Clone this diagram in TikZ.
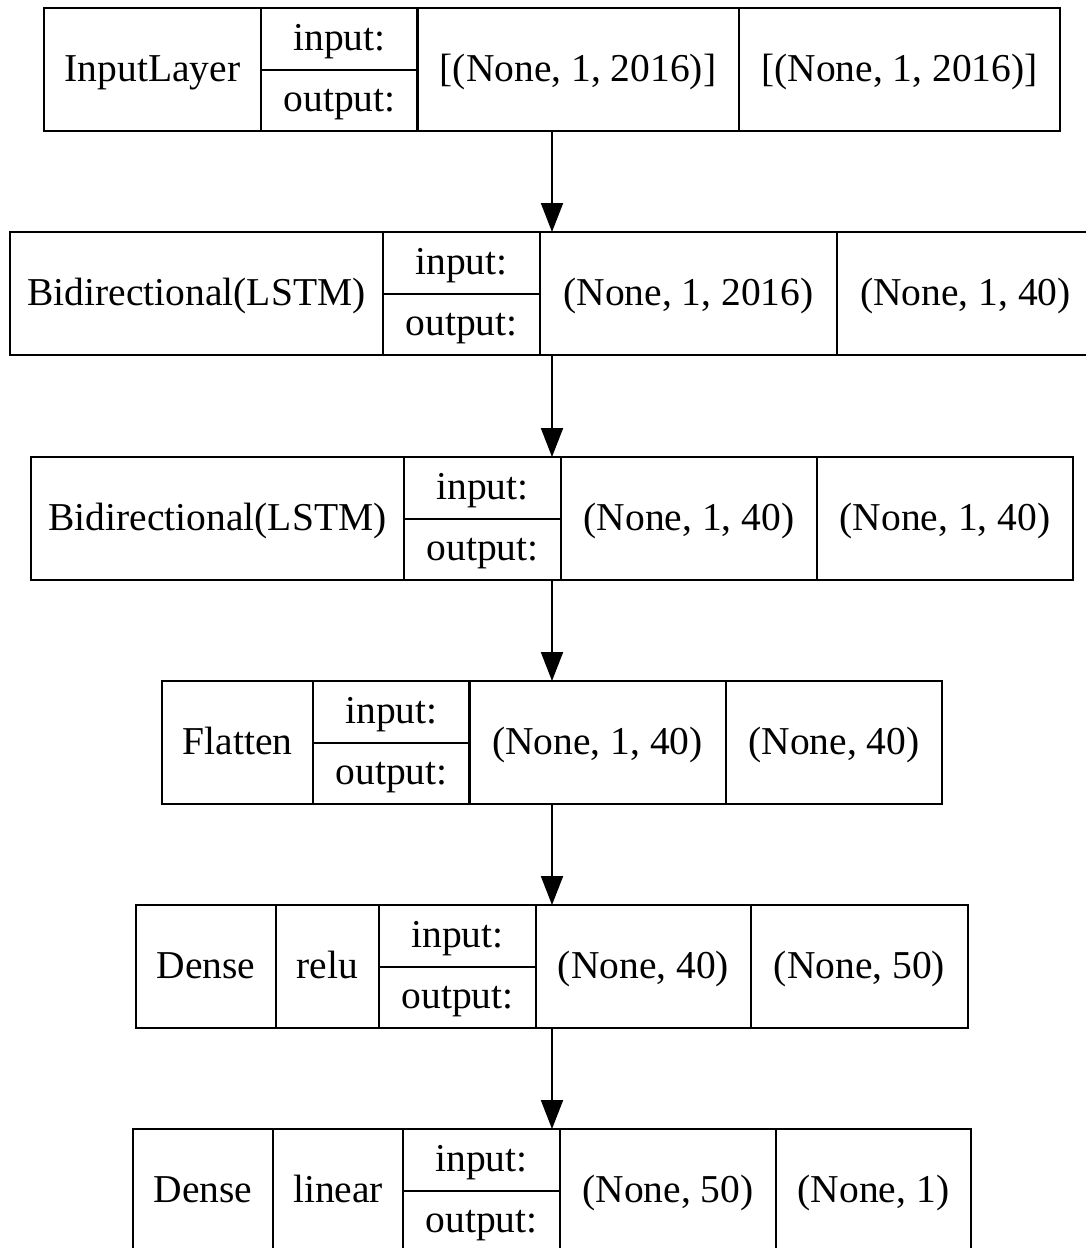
\documentclass[tikz,border=0pt]{standalone}
\usepackage{fontspec}
\setmainfont{Liberation Serif}
\usetikzlibrary{arrows.meta}

\tikzset{
  layerbox/.style={draw, line width=2pt, inner sep=0pt, outer sep=0pt, minimum height=123pt},
  cell/.style={draw, line width=2pt, inner sep=0pt, outer sep=0pt, minimum height=123pt, anchor=north west, text height=28pt, text depth=5pt},
  half/.style={draw, line width=2pt, inner sep=0pt, outer sep=0pt, minimum height=61.5pt, minimum width=157pt, anchor=north west, text height=28pt, text depth=5pt},
  flow/.style={-{Triangle[length=29pt,width=22pt]}, line width=2pt}
}

\begin{document}
\begin{tikzpicture}[x=1pt, y=-1pt, every node/.style={font=\fontsize{39.5}{47}\selectfont}]
\useasboundingbox (0,0) rectangle (1086,1248);

% InputLayer
\node[layerbox, minimum width=1016pt] (L1) at (552,69.5) {};
\foreach \x/\w/\t in {44/217/InputLayer, 417/322/{[(None, 1, 2016)]}, 739/321/{[(None, 1, 2016)]}}
    \node[cell, minimum width=\w pt] (L1-\x) at (\x,8) {\t};
\node[half] (L1-in) at (261,8) {input:};
\node[half] (L1-out) at (261,69.5) {output:};

% Bidirectional 1
\node[layerbox, minimum width=1084pt] (L2) at (552,293.5) {};
\foreach \x/\w/\t in {10/373/Bidirectional(LSTM), 540/297/{(None, 1, 2016)}, 837/257/{(None, 1, 40)}}
    \node[cell, minimum width=\w pt] (L2-\x) at (\x,232) {\t};
\node[half] (L2-in) at (383,232) {input:};
\node[half] (L2-out) at (383,293.5) {output:};

% Bidirectional 2
\node[layerbox, minimum width=1042pt] (L3) at (552,518.5) {};
\foreach \x/\w/\t in {31/373/Bidirectional(LSTM), 561/256/{(None, 1, 40)}, 817/256/{(None, 1, 40)}}
    \node[cell, minimum width=\w pt] (L3-\x) at (\x,457) {\t};
\node[half] (L3-in) at (404,457) {input:};
\node[half] (L3-out) at (404,518.5) {output:};

% Flatten
\node[layerbox, minimum width=780pt] (L4) at (552,742.5) {};
\foreach \x/\w/\t in {162/151/Flatten, 469/257/{(None, 1, 40)}, 726/216/{(None, 40)}}
    \node[cell, minimum width=\w pt] (L4-\x) at (\x,681) {\t};
\node[half] (L4-in) at (313,681) {input:};
\node[half] (L4-out) at (313,742.5) {output:};

% Dense relu
\node[layerbox, minimum width=832pt] (L5) at (552,966.5) {};
\foreach \x/\w/\t in {136/140/Dense, 276/103/relu, 536/215/{(None, 40)}, 751/217/{(None, 50)}}
    \node[cell, minimum width=\w pt] (L5-\x) at (\x,905) {\t};
\node[half] (L5-in) at (379,905) {input:};
\node[half] (L5-out) at (379,966.5) {output:};

% Dense linear
\node[layerbox, minimum width=838pt] (L6) at (552,1190.5) {};
\foreach \x/\w/\t in {133/140/Dense, 273/130/linear, 560/216/{(None, 50)}, 776/195/{(None, 1)}}
    \node[cell, minimum width=\w pt] (L6-\x) at (\x,1129) {\t};
\node[half] (L6-in) at (403,1129) {input:};
\node[half] (L6-out) at (403,1190.5) {output:};

\foreach \a/\b in {L1/L2, L2/L3, L3/L4, L4/L5, L5/L6}
    \draw[flow] (\a.south) -- (\b.north);
\end{tikzpicture}
\end{document}
